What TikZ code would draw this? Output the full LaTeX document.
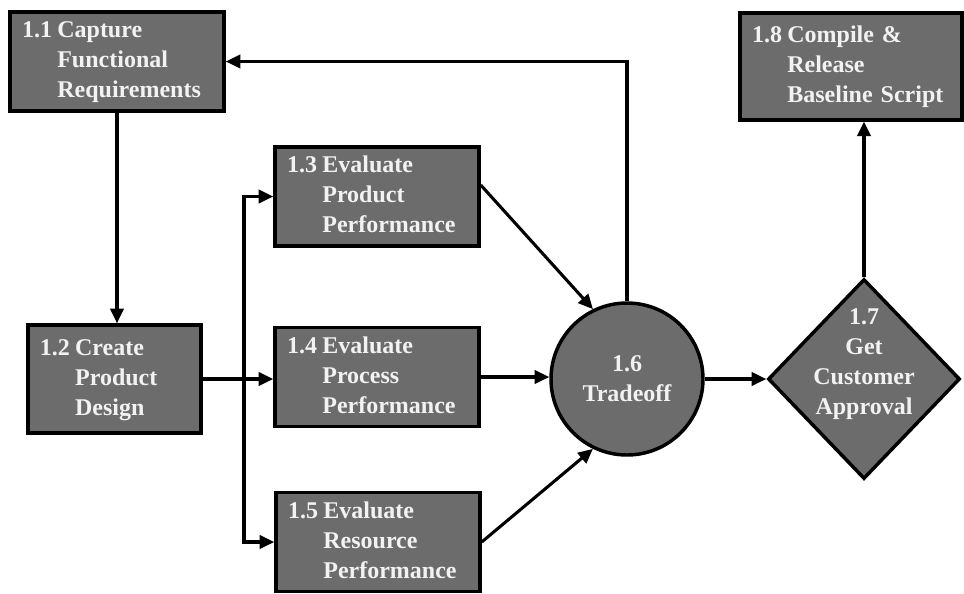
\documentclass[tikz,border=0pt]{standalone}
\usepackage{fontspec}
\setmainfont{Liberation Serif}
\usepackage{xcolor}
\usetikzlibrary{arrows.meta,shapes.geometric}

\definecolor{boxgray}{RGB}{108,108,108}
\definecolor{boxtext}{RGB}{242,242,242}

% number in front, the rest hangs under the first word
\newcommand{\steplabel}[4]{\begin{tabular}{@{}l@{\hspace{4pt}}l@{}}#1&#2\\&#3\\&#4\end{tabular}}

\begin{document}
\begin{tikzpicture}
  [x=0.75pt,y=-0.75pt,
   every node/.style={fill=boxgray,draw=black,line width=2.6pt,text=boxtext,
     font=\bfseries\fontsize{18}{22.5}\selectfont},
   stepbox/.style={rectangle,text width=#1-18pt,inner xsep=9pt,align=left},
   link/.style={line width=2.3pt,-{Triangle[length=11pt,width=10pt]}}]
  \useasboundingbox (0,0) rectangle (964,593);

  \node[stepbox=160.5pt,minimum height=74pt] (n11) at (117,61.5)
    {\steplabel{1.1}{Capture}{Functional}{Requirements}};
  \node[stepbox=130pt,minimum height=81pt] (n12) at (114.5,379)
    {\steplabel{1.2}{Create}{Product}{Design}};
  \node[stepbox=153pt,minimum height=74pt] (n13) at (377,196.5)
    {\steplabel{1.3}{Evaluate}{Product}{Performance}};
  \node[stepbox=153pt,minimum height=74pt] (n14) at (377,377)
    {\steplabel{1.4}{Evaluate}{Process}{Performance}};
  \node[stepbox=153pt,minimum height=74pt] (n15) at (378,542)
    {\steplabel{1.5}{Evaluate}{Resource}{Performance}};
  \node[circle,minimum size=114pt,align=center] (n16) at (627,379)
    {1.6\\Tradeoff};
  \node[diamond,inner sep=0pt,minimum width=144pt,minimum height=150pt] (n17) at (864,379)
    {\makebox[0pt]{\raisebox{7pt}[0pt][0pt]{\begin{tabular}{@{}c@{}}1.7\\Get\\Customer\\Approval\end{tabular}}}};
  \node[stepbox=166.5pt,minimum height=80pt] (n18) at (851,66.5)
    {\steplabel{1.8}{Compile \&}{Release}{Baseline Script}};

  \coordinate (br) at (244,379);

  \draw[link] (n11.south) -- (n11.south |- n12.north);
  \draw[link] (n12.east) -- (n12.east -| n14.west);
  \draw[link,{Triangle[length=11pt,width=10pt]}-{Triangle[length=11pt,width=10pt]}]
    (n13.west) -| (br) |- (n15.west);
  \draw[link] ([yshift=8.6pt]n13.east) -- (n16.116);
  \draw[link] (n14.east) -- (n14.east -| n16.west);
  \draw[link] (n15.east) -- (n16.244);
  \draw[link] (n16.east) -- (n17.west);
  \draw[link] (n16.north) |- (n11.east);
  \draw[link] (n17.north) -- (n17.north |- n18.south);

\end{tikzpicture}
\end{document}
